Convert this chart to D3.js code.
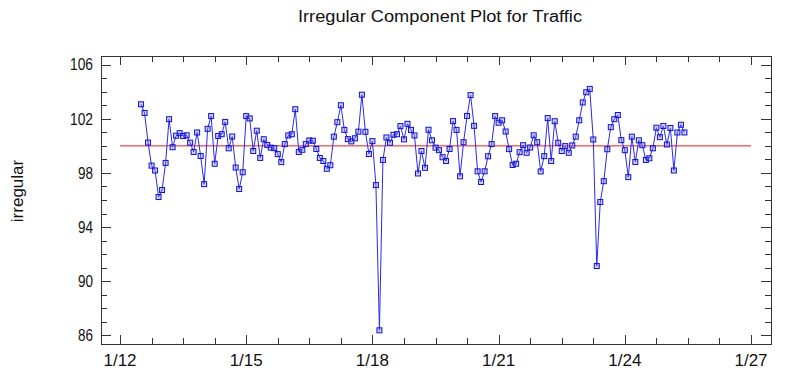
<!DOCTYPE html>
<html>
<head>
<meta charset="utf-8">
<script src="https://cdn.jsdelivr.net/npm/d3@7"></script>
<style>
  body { margin: 0; background: #fff; }
  text { font-family: Arial, "Liberation Sans", sans-serif; fill: #111; }
</style>
</head>
<body>
<div id="chart"></div>
<script>
// irregular component, one value every 2 hours starting noon 1/12
var startDay = 12.5;
var stepDay = 1 / 12;
var irregular = [
  103.07, 102.43, 100.24, 98.54, 98.18, 96.22, 96.74, 98.74, 101.97, 99.90,
  100.75, 100.94, 100.73, 100.78, 100.24, 99.55, 100.99, 99.25, 97.17, 101.26,
  102.20, 98.68, 100.73, 100.86, 101.77, 99.82, 100.69, 98.40, 96.81, 98.05,
  102.20, 102.03, 99.62, 101.12, 99.11, 100.49, 100.07, 99.87, 99.83, 99.39,
  98.80, 100.13, 100.77, 100.86, 102.71, 99.55, 99.71, 100.13, 100.40, 100.38,
  99.77, 99.11, 98.88, 98.31, 98.57, 100.68, 101.75, 103.00, 101.18, 100.50,
  100.33, 100.56, 101.05, 103.78, 101.04, 99.40, 100.35, 97.10, 86.37, 98.96,
  100.62, 100.23, 100.82, 100.86, 101.46, 100.48, 101.63, 101.18, 100.77, 97.96,
  99.62, 98.38, 101.19, 100.41, 99.87, 99.68, 99.16, 98.88, 99.77, 101.83,
  101.18, 97.75, 100.27, 102.21, 103.75, 101.48, 98.12, 97.33, 98.12, 99.23,
  100.13, 102.20, 101.71, 101.89, 101.06, 99.76, 98.59, 98.68, 99.53, 100.05,
  99.49, 99.88, 100.78, 100.27, 98.11, 99.24, 102.05, 98.88, 101.82, 100.23,
  99.62, 99.98, 99.49, 100.03, 100.68, 101.89, 103.21, 103.96, 104.21, 100.47,
  91.12, 95.85, 97.39, 99.75, 101.38, 101.97, 102.28, 100.42, 99.68, 97.69,
  100.68, 98.81, 100.41, 100.05, 98.96, 99.08, 99.82, 101.34, 100.64, 101.47,
  100.10, 101.32, 98.18, 100.99, 101.56, 100.99
];
var baseline = 100;
var baselineSpan = [12, 27];
var xLabelDays = [12, 15, 18, 21, 24, 27];
var yLabels = [86, 90, 94, 98, 102, 106];

var W = 808, H = 384;
var margin = {top: 56, right: 37, bottom: 40, left: 101};
var width = W - margin.left - margin.right,
    height = H - margin.top - margin.bottom;

var svg = d3.select("#chart").append("svg")
    .attr("width", W)
    .attr("height", H);

// the original font is a narrow one, so squeeze text to its measured width
svg.append("text")
    .attr("x", 298)
    .attr("y", 22)
    .attr("textLength", 284)
    .attr("lengthAdjust", "spacingAndGlyphs")
    .style("font-size", "16px")
    .text("Irregular Component Plot for Traffic");

var g = svg.append("g")
    .attr("transform", "translate(" + margin.left + "," + margin.top + ")");

var x = d3.scaleLinear()
    .domain([11.548, 27.475])
    .range([0, width]);

var y = d3.scaleLinear()
    .domain([85.36, 106.64])
    .range([height, 0]);

var xTicks = d3.range(12, 27.01, 0.75);
var yTicks = d3.range(86, 106.01, 1);
function isMajorX(d) { return xLabelDays.indexOf(d) >= 0; }
function isMajorY(d) { return yLabels.indexOf(d) >= 0; }

// ticks, all pointing inward
var ticks = g.append("g").attr("stroke", "#333").attr("stroke-width", 1);
xTicks.forEach(function (d) {
    var len = isMajorX(d) ? 9 : 6;
    var px = Math.round(x(d)) + 0.5;
    ticks.append("line").attr("x1", px).attr("x2", px).attr("y1", height).attr("y2", height - len);
    ticks.append("line").attr("x1", px).attr("x2", px).attr("y1", 0).attr("y2", len);
});
yTicks.forEach(function (d) {
    var len = isMajorY(d) ? 10 : 6;
    var py = Math.round(y(d)) + 0.5;
    ticks.append("line").attr("x1", 0).attr("x2", len).attr("y1", py).attr("y2", py);
    ticks.append("line").attr("x1", width).attr("x2", width - len).attr("y1", py).attr("y2", py);
});

g.append("rect")
    .attr("x", 0.5).attr("y", 0.5)
    .attr("width", width).attr("height", height)
    .attr("fill", "none")
    .attr("stroke", "#333");

// tick labels
g.selectAll(".xl").data(xLabelDays).enter().append("text")
    .attr("x", function (d) { return x(d); })
    .attr("y", height + 22)
    .attr("text-anchor", "middle")
    .style("font-size", "17px")
    .text(function (d) { return "1/" + d; });

g.selectAll(".yl").data(yLabels).enter().append("text")
    .attr("x", -31)
    .attr("y", function (d) { return y(d); })
    .attr("dy", "0.36em")
    .attr("textLength", function (d) { return d >= 100 ? 23 : 15; })
    .attr("lengthAdjust", "spacingAndGlyphs")
    .style("font-size", "16px")
    .attr("dx", function (d) { return d >= 100 ? 0 : 8; })
    .text(function (d) { return d; });

svg.append("text")
    .attr("transform", "translate(23,191) rotate(-90)")
    .attr("text-anchor", "middle")
    .style("font-size", "17px")
    .text("irregular");

// reference line at 100
g.append("line")
    .attr("x1", x(baselineSpan[0])).attr("x2", x(baselineSpan[1]))
    .attr("y1", y(baseline)).attr("y2", y(baseline))
    .attr("stroke", "#e02020")
    .attr("stroke-width", 1);

var line = d3.line()
    .x(function (d, i) { return x(startDay + i * stepDay); })
    .y(function (d) { return y(d); });

g.append("path")
    .datum(irregular)
    .attr("d", line)
    .attr("fill", "none")
    .attr("stroke", "#2a2ae6")
    .attr("stroke-width", 1);

g.selectAll(".pt").data(irregular).enter().append("rect")
    .attr("x", function (d, i) { return x(startDay + i * stepDay) - 2.5; })
    .attr("y", function (d) { return y(d) - 2.5; })
    .attr("width", 5)
    .attr("height", 5)
    .attr("fill", "rgba(120,120,255,0.35)")
    .attr("stroke", "#1010d0")
    .attr("stroke-width", 1);
</script>
</body>
</html>
